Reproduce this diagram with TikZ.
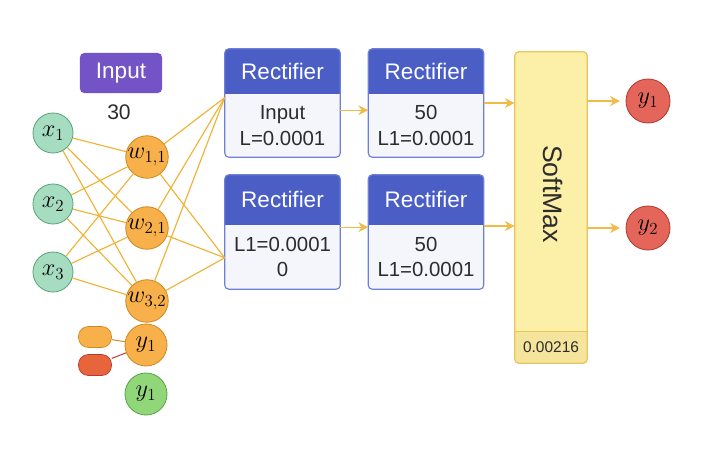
\documentclass[tikz,border=0pt]{standalone}
\usepackage{fontspec}
\setmainfont{Liberation Sans}
\usetikzlibrary{arrows.meta, positioning, calc}

\definecolor{inpurple}{HTML}{7453C6}
\definecolor{xfill}{HTML}{A6DCC0}
\definecolor{xline}{HTML}{5BA67C}
\definecolor{wfill}{HTML}{F8B04A}
\definecolor{wline}{HTML}{CF8A24}
\definecolor{gfill}{HTML}{92D67A}
\definecolor{gline}{HTML}{5AA64A}
\definecolor{rfill}{HTML}{E4665A}
\definecolor{rline}{HTML}{B23C32}
\definecolor{pillred}{HTML}{E8653C}
\definecolor{hdrblue}{HTML}{4A5EC6}
\definecolor{boxline}{HTML}{6C80D8}
\definecolor{boxbody}{HTML}{F4F6FC}
\definecolor{smfill}{HTML}{FCEFA8}
\definecolor{smfoot}{HTML}{F4E49C}
\definecolor{smline}{HTML}{E8C65A}
\definecolor{linkgold}{HTML}{F0B232}
\definecolor{txtgray}{HTML}{2C2C2C}

\begin{document}
\begin{tikzpicture}[x=0.025cm, y=-0.025cm,
  neuron/.style   = {circle, draw, line width=0.6pt, inner sep=0pt,
                     minimum size=1cm, font=\fontsize{17}{19}\selectfont},
  xin/.style      = {neuron, fill=xfill, draw=xline},
  wmid/.style     = {neuron, fill=wfill, draw=wline, minimum size=1.05cm},
  ygreen/.style   = {neuron, fill=gfill, draw=gline, minimum size=1.05cm},
  yout/.style     = {neuron, fill=rfill, draw=rline, minimum size=1.1cm},
  pill/.style     = {rectangle, rounded corners=7pt, draw, line width=0.5pt,
                     minimum width=0.825cm, minimum height=0.525cm},
  rbox/.style     = {rectangle, minimum width=2.875cm, fill=boxbody},
  hdrtext/.style  = {text=white, font=\fontsize{16}{18}\selectfont},
  bodytext/.style = {text=txtgray, align=center,
                     font=\fontsize{14.5}{18}\selectfont},
  link/.style     = {draw=linkgold, line width=0.8pt},
  arr/.style      = {-{Stealth[length=7pt, width=7pt]}, draw=linkgold!90,
                     line width=1pt}
]
\useasboundingbox[fill=white] (0,0) rectangle (708,474);

% input block
\node[rectangle, rounded corners=3pt, fill=inpurple, text=white,
      minimum width=2.05cm, minimum height=1cm,
      font=\fontsize{16}{18}\selectfont] (inp) at (121,73) {Input};
\node[text=txtgray, font=\fontsize{15}{18}\selectfont] (n30) at (119,112) {30};

\node[xin] (x1) at (53,133) {$x_1$};
\node[xin] (x2) at (53,204) {$x_2$};
\node[xin] (x3) at (53,272) {$x_3$};

\node[wmid] (w11) at (147,157) {$w_{1,1}$};
\node[wmid] (w21) at (147,228) {$w_{2,1}$};
\node[wmid] (w32) at (147,301) {$w_{3,2}$};
\node[wmid] (ya)  at (146,345) {$y_1$};
\node[ygreen] (yb) at (146,394) {$y_1$};

\node[pill, fill=wfill, draw=wline]     (p1) at (95,337) {};
\node[pill, fill=pillred, draw=rline]   (p2) at (95,365) {};

% rectifier boxes
\foreach \nm/\cx/\cy/\boxh/\hdrh/\txt in {
    r1/282.5/103/2.7/1.125/{Input\\L=0.0001},
    r2/426/103/2.7/1.125/{50\\L1=0.0001},
    r3/282.5/232/2.85/1.25/{L1=0.0001\\0},
    r4/426/232/2.85/1.25/{50\\L1=0.0001}}{
  \node[rbox, minimum height=\boxh cm] (\nm) at (\cx,\cy) {};
  \begin{scope}
    \clip[rounded corners=3pt] (\nm.south west) rectangle (\nm.north east);
    \fill[hdrblue] (\nm.north west) rectangle ([yshift=-\hdrh cm]\nm.north east);
  \end{scope}
  \draw[boxline, line width=0.8pt, rounded corners=3pt]
    (\nm.south west) rectangle (\nm.north east);
  \node[hdrtext] (\nm-h) at ($(\nm.north)!0.5!([yshift=-\hdrh cm]\nm.north)$) {Rectifier};
  \node[bodytext] (\nm-b) at ($(\nm.south)!0.5!([yshift=-\hdrh cm]\nm.north)$) {\txt};
}
\coordinate (r1in) at ($(r1.west)!0.1!(r1.north west)$);
\coordinate (r3in) at ($(r3.west)!0.45!(r3.south west)$);

% softmax
\node[rectangle, minimum width=1.8cm, minimum height=7.775cm] (sm) at (551,207.5) {};
\begin{scope}
  \clip[rounded corners=3pt] (sm.south west) rectangle (sm.north east);
  \fill[smfill] (sm.south west) rectangle (sm.north east);
  \fill[smfoot] (sm.south west) rectangle ([yshift=0.8cm]sm.south east);
\end{scope}
\draw[smline, line width=0.5pt] ([yshift=0.8cm]sm.south west) -- ([yshift=0.8cm]sm.south east);
\draw[smline, line width=0.9pt, rounded corners=3pt] (sm.south west) rectangle (sm.north east);
\node[rotate=-90, text=txtgray, font=\fontsize{19}{22}\selectfont] (smt) at (553,194) {SoftMax};
\node[text=txtgray, font=\fontsize{11}{13}\selectfont] (smv) at (551,347) {0.00216};

\node[yout] (o1) at (648,101) {$y_1$};
\node[yout] (o2) at (648,228) {$y_2$};

% connections
\foreach \a in {x1,x2,x3}
  \foreach \b in {w11,w21,w32}
    \draw[link] (\a) -- (\b);
\foreach \a in {w11,w21,w32}
  \foreach \b in {r1in,r3in}
    \draw[link] (\a) -- (\b);
\draw[draw=wline, line width=0.7pt] (p1) -- (ya);
\draw[draw=rline, line width=0.7pt] (p2) -- (ya);

\draw[arr] ([yshift=-0.18cm]r1.east) -- ([yshift=-0.18cm]r2.west);
\draw[arr] ([yshift=0.12cm]r3.east) -- ([yshift=0.12cm]r4.west);
\draw[arr] (r2.east) -- (r2.east -| sm.west);
\draw[arr] ([yshift=0.15cm]r4.east) -- ([yshift=0.15cm]r4.east -| sm.west);
\draw[arr, shorten >=4pt] (sm.east |- o1) -- (o1);
\draw[arr, shorten >=4pt] (sm.east |- o2) -- (o2);
\end{tikzpicture}
\end{document}
